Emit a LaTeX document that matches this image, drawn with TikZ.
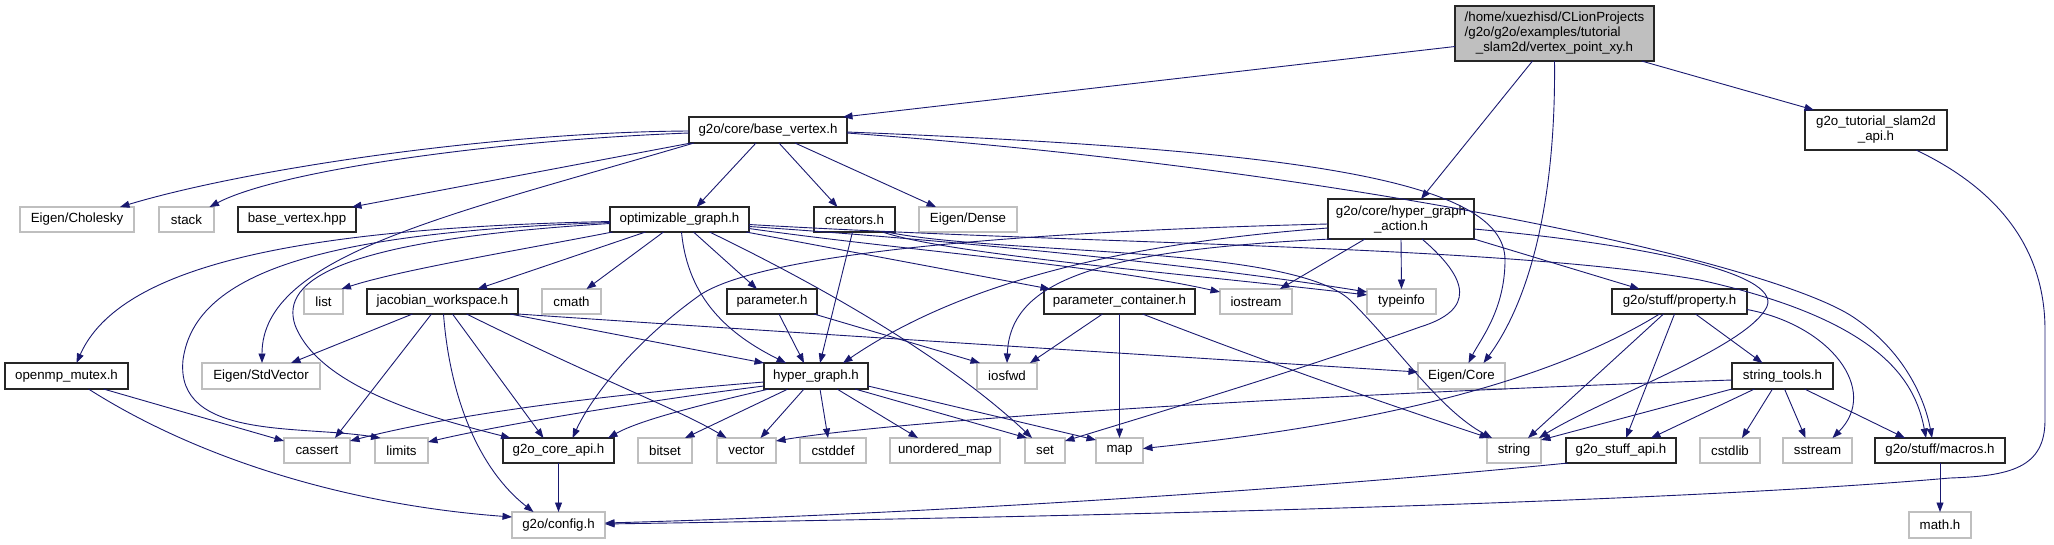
\documentclass[tikz,border=0pt]{standalone}
\usepackage{fontspec}
\setmainfont{Liberation Sans}
\usetikzlibrary{arrows.meta}
\definecolor{eb}{HTML}{191970}
\definecolor{gb}{HTML}{BFBFBF}
\begin{document}
\begin{tikzpicture}[x=1pt,y=-1pt,
  every node/.style={font=\fontsize{13.3}{15}\selectfont, inner sep=0pt, outer sep=0pt},
  doc/.style={draw=black!85, line width=1.2pt, rectangle},
  ext/.style={draw=gb, line width=1.2pt, rectangle},
  e/.style={draw=eb, line width=0.9pt, -{Triangle[length=9.5pt,width=7pt]}}]
\useasboundingbox (0,0) rectangle (2054,544);
% row 0
\node[doc, fill=gb, minimum width=199pt, minimum height=55pt] (vpxy) at (1554.5,33.5)
  {\begin{tabular}{@{}l@{}}/home/xuezhisd/CLionProjects\\/g2o/g2o/examples/tutorial\\\multicolumn{1}{@{}c@{}}{\_slam2d/vertex\_point\_xy.h}\end{tabular}};
% row 1
\node[doc, minimum width=158pt, minimum height=26pt] (bv) at (768,130) {g2o/core/base\_vertex.h};
\node[doc, minimum width=142pt, minimum height=40pt, align=center] (tut) at (1876,130) {g2o\_tutorial\_slam2d\\\_api.h};
% row 2
\node[ext, minimum width=114pt, minimum height=25pt] (chol) at (77,219.5) {Eigen/Cholesky};
\node[ext, minimum width=55pt, minimum height=25pt] (stack) at (186.5,219.5) {stack};
\node[doc, minimum width=118pt, minimum height=25pt] (bvhpp) at (297,219.5) {base\_vertex.hpp};
\node[doc, minimum width=139pt, minimum height=25pt] (opt) at (679.5,219.5) {optimizable\_graph.h};
\node[doc, minimum width=81pt, minimum height=25pt] (creators) at (854.5,219.5) {creators.h};
\node[ext, minimum width=98pt, minimum height=25pt] (dense) at (968,219.5) {Eigen/Dense};
\node[doc, minimum width=146pt, minimum height=40pt, align=center] (hga) at (1401,219) {g2o/core/hyper\_graph\\\_action.h};
% row 3
\node[ext, minimum width=39pt, minimum height=25pt] (list) at (323.5,301.5) {list};
\node[doc, minimum width=151pt, minimum height=25pt] (jac) at (442.5,301.5) {jacobian\_workspace.h};
\node[ext, minimum width=59pt, minimum height=25pt] (cmath) at (571.5,301.5) {cmath};
\node[doc, minimum width=90pt, minimum height=25pt] (param) at (772,301.5) {parameter.h};
\node[doc, minimum width=151pt, minimum height=25pt] (pcont) at (1119.5,301.5) {parameter\_container.h};
\node[ext, minimum width=72pt, minimum height=25pt] (iostream) at (1256,301.5) {iostream};
\node[ext, minimum width=69pt, minimum height=25pt] (typeinfo) at (1401.5,301.5) {typeinfo};
\node[doc, minimum width=135pt, minimum height=25pt] (prop) at (1679.5,301.5) {g2o/stuff/property.h};
% row 4
\node[doc, minimum width=123pt, minimum height=26pt] (openmp) at (66.5,376) {openmp\_mutex.h};
\node[ext, minimum width=118pt, minimum height=26pt] (stdvec) at (261,376) {Eigen/StdVector};
\node[doc, minimum width=104pt, minimum height=26pt] (hg) at (816,376) {hyper\_graph.h};
\node[ext, minimum width=60pt, minimum height=26pt] (iosfwd) at (1007,376) {iosfwd};
\node[ext, minimum width=87pt, minimum height=26pt] (ecore) at (1461.5,376) {Eigen/Core};
\node[doc, minimum width=101pt, minimum height=26pt] (strtools) at (1782.5,376) {string\_tools.h};
% row 5
\node[ext, minimum width=66pt, minimum height=25pt] (cassert) at (317,450.5) {cassert};
\node[ext, minimum width=53pt, minimum height=25pt] (limits) at (401.5,450.5) {limits};
\node[doc, minimum width=111pt, minimum height=25pt] (coreapi) at (558.5,450.5) {g2o\_core\_api.h};
\node[ext, minimum width=54pt, minimum height=25pt] (bitset) at (665,450.5) {bitset};
\node[ext, minimum width=59pt, minimum height=25pt] (vector) at (746.5,450.5) {vector};
\node[ext, minimum width=66pt, minimum height=25pt] (cstddef) at (833,450.5) {cstddef};
\node[ext, minimum width=110pt, minimum height=25pt] (umap) at (945,450.5) {unordered\_map};
\node[ext, minimum width=40pt, minimum height=25pt] (set) at (1045,450.5) {set};
\node[ext, minimum width=47pt, minimum height=25pt] (map) at (1119.5,450.5) {map};
\node[ext, minimum width=54pt, minimum height=25pt] (string) at (1514,450.5) {string};
\node[doc, minimum width=110pt, minimum height=25pt] (stuffapi) at (1621,450.5) {g2o\_stuff\_api.h};
\node[ext, minimum width=60pt, minimum height=25pt] (cstdlib) at (1730,450.5) {cstdlib};
\node[ext, minimum width=69pt, minimum height=25pt] (sstream) at (1817.5,450.5) {sstream};
\node[doc, minimum width=130pt, minimum height=25pt] (macros) at (1940,450.5) {g2o/stuff/macros.h};
% row 6
\node[ext, minimum width=93pt, minimum height=26pt] (config) at (558.5,525) {g2o/config.h};
\node[ext, minimum width=62pt, minimum height=26pt] (math) at (1940,525) {math.h};

% ---- edges ----
% vertex_point_xy
\draw[e] ([yshift=-13pt]vpxy.west) -- ([xshift=-4pt]bv.north east);
\draw[e] ([xshift=-22pt]vpxy.south) -- ([xshift=20pt]hga.north);
\draw[e] (vpxy.south) .. controls (1556,200) and (1530,300) .. ([xshift=22pt]ecore.north);
\draw[e] ([xshift=87pt]vpxy.south) -- ([xshift=-62pt]tut.north);
% tutorial api
\draw[e] ([xshift=40pt]tut.south) .. controls (2000,190) and (2045,250) .. (2045,330) -- (2045,420)
  .. controls (2045,468) and (2010,476) .. (1950,478) .. controls (1700,500) and (1200,515) .. ([yshift=1pt]config.east);
% base_vertex.h
\draw[e] ([yshift=-1pt]bv.west) .. controls (500,132) and (250,168) .. ([xshift=43pt]chol.north);
\draw[e] ([yshift=-3pt]bv.west) .. controls (500,140) and (280,170) .. ([xshift=23pt]stack.north);
\draw[e] ([xshift=2pt]bv.south west) -- ([xshift=55pt]bvhpp.north);
\draw[e] ([xshift=-12pt]bv.south) -- ([xshift=17pt]opt.north);
\draw[e] ([xshift=11pt]bv.south) -- ([xshift=-17pt]creators.north);
\draw[e] ([xshift=27pt]bv.south) -- ([xshift=-32pt]dense.north);
\draw[e] ([xshift=5pt]bv.south west) .. controls (450,215) and (262,255) .. ([xshift=1pt]stdvec.north);
\draw[e] ([yshift=-2pt]bv.east) .. controls (1300,150) and (1505,180) .. (1505,260) .. controls (1505,310) and (1480,340) .. ([xshift=7pt]ecore.north);
\draw[e] ([yshift=-3pt]bv.east) .. controls (1350,170) and (1760,260) .. (1850,315) .. controls (1905,350) and (1925,400) .. ([xshift=-8pt]macros.north);
% optimizable_graph.h
\draw[e] ([yshift=-2pt]opt.west) .. controls (300,228) and (120,265) .. ([xshift=10pt]openmp.north);
\draw[e] ([yshift=-3pt]opt.west) .. controls (330,232) and (195,270) .. (183,360) .. controls (175,440) and (300,425) .. ([xshift=-21pt]limits.north);
\draw[e] ([yshift=-4pt]opt.west) .. controls (340,240) and (280,280) .. (295,325) .. controls (320,390) and (440,420) .. ([xshift=-48pt]coreapi.north);
\draw[e] ([xshift=-67pt]opt.south) .. controls (520,250) and (400,270) .. ([xshift=18pt]list.north);
\draw[e] ([xshift=-34pt]opt.south) -- ([xshift=35pt]jac.north);
\draw[e] ([xshift=-16pt]opt.south) -- ([xshift=15pt]cmath.north);
\draw[e] ([xshift=2pt]opt.south) .. controls (688,300) and (730,335) .. ([xshift=-30pt]hg.north);
\draw[e] ([xshift=14pt]opt.south) -- ([xshift=-15pt]param.north);
\draw[e] ([xshift=30pt]opt.south) .. controls (850,300) and (960,370) .. ([xshift=-13pt]set.north);
\draw[e] ([xshift=-3pt]opt.south east) -- ([xshift=6pt]pcont.north west);
\draw[e] ([yshift=-9pt]opt.east) .. controls (900,250) and (1100,265) .. ([yshift=-3pt]iostream.north west);
\draw[e] ([yshift=-7pt]opt.east) .. controls (950,240) and (1200,265) .. ([yshift=-3pt]typeinfo.north west);
\draw[e] ([yshift=-5pt]opt.east) .. controls (1100,245) and (1500,245) .. (1700,280) .. controls (1880,320) and (1915,380) .. ([xshift=-14pt]macros.north);
% creators.h
\draw[e] ([xshift=28pt]creators.south) .. controls (950,255) and (1200,275) .. ([yshift=-6pt]typeinfo.north west);
\draw[e] ([xshift=-2pt]creators.south) -- ([xshift=4pt]hg.north);
\draw[e] ([xshift=32pt]creators.south) .. controls (1000,255) and (1290,245) .. (1350,300) .. controls (1400,350) and (1440,410) .. ([xshift=5pt]string.north west);
% hyper_graph_action.h
\draw[e] ([yshift=-9pt]hga.west) .. controls (1100,245) and (950,290) .. ([xshift=27pt]hg.north);
\draw[e] ([yshift=-5pt]hga.west) .. controls (1000,232) and (760,255) .. (700,295) .. controls (630,345) and (590,400) .. ([xshift=14pt]coreapi.north);
\draw[e] ([xshift=-70pt]hga.south) .. controls (1100,250) and (1010,280) .. (iosfwd.north);
\draw[e] (hga.south) -- (typeinfo.north);
\draw[e] ([xshift=-36pt]hga.south) -- ([xshift=24pt]iostream.north);
\draw[e] ([xshift=21pt]hga.south) .. controls (1470,280) and (1475,310) .. (1420,327) .. controls (1300,370) and (1150,415) .. ([yshift=-3pt]set.north east);
\draw[e] (hga.south east) -- ([xshift=-40pt]prop.north);
\draw[e] ([yshift=-10pt]hga.east) .. controls (1650,245) and (1790,275) .. (1765,310) .. controls (1740,350) and (1600,400) .. ([xshift=-2pt]string.north east);
% parameter.h, parameter_container.h
\draw[e] ([xshift=7pt]param.south) -- ([xshift=-12pt]hg.north);
\draw[e] ([xshift=-3pt]param.south east) -- ([xshift=3pt]iosfwd.north west);
\draw[e] ([xshift=-17pt]pcont.south) -- ([xshift=23pt]iosfwd.north);
\draw[e] (pcont.south) -- (map.north);
\draw[e] ([xshift=23pt]pcont.south) .. controls (1300,375) and (1420,415) .. ([xshift=2pt]string.north west);
% jacobian_workspace.h
\draw[e] ([xshift=-30pt]jac.south) -- ([xshift=30pt]stdvec.north);
\draw[e] ([xshift=-11pt]jac.south) -- ([xshift=18pt]cassert.north);
\draw[e] ([xshift=1pt]jac.south) .. controls (450,400) and (480,470) .. ([xshift=-25pt]config.north);
\draw[e] ([xshift=10pt]jac.south) -- ([xshift=-15pt]coreapi.north);
\draw[e] ([xshift=24pt]jac.south) .. controls (600,380) and (680,410) .. ([xshift=-20pt]vector.north);
\draw[e] ([xshift=-8pt]jac.south east) -- (hg.north west);
\draw[e] (jac.south east) .. controls (750,330) and (1150,355) .. ([yshift=4pt]ecore.west);
% hyper_graph.h
\draw[e] ([yshift=-6pt]hg.west) .. controls (600,395) and (450,415) .. ([yshift=-3pt]cassert.north east);
\draw[e] ([yshift=-10pt]hg.west) .. controls (650,400) and (500,425) .. ([yshift=-4pt]limits.north east);
\draw[e] ([xshift=5pt]hg.south west) .. controls (700,405) and (640,420) .. ([xshift=-6pt]coreapi.north east);
\draw[e] ([xshift=-28pt]hg.south) -- ([xshift=20pt]bitset.north);
\draw[e] ([xshift=-12pt]hg.south) -- ([xshift=14pt]vector.north);
\draw[e] ([xshift=4pt]hg.south) -- ([xshift=-5pt]cstddef.north);
\draw[e] ([xshift=21pt]hg.south) -- ([xshift=-27pt]umap.north);
\draw[e] ([xshift=39pt]hg.south) -- ([xshift=2pt]set.north west);
\draw[e] ([yshift=-10pt]hg.east) -- ([yshift=-2pt]map.north west);
% openmp_mutex.h, g2o_core_api.h
\draw[e] ([xshift=37pt]openmp.south) -- ([yshift=-3pt]cassert.north west);
\draw[e] ([xshift=22pt]openmp.south) .. controls (200,460) and (350,505) .. ([yshift=8pt]config.west);
\draw[e] (coreapi.south) -- (config.north);
% property.h
\draw[e] ([xshift=-20pt]prop.south) .. controls (1520,400) and (1300,432) .. ([yshift=2pt]map.east);
\draw[e] ([xshift=-16pt]prop.south) -- ([xshift=14pt]string.north);
\draw[e] ([xshift=-5pt]prop.south) -- ([xshift=5pt]stuffapi.north);
\draw[e] ([xshift=16pt]prop.south) -- ([xshift=-20pt]strtools.north);
\draw[e] ([yshift=-8pt]prop.east) .. controls (1830,325) and (1880,390) .. ([xshift=15pt]sstream.north);
% string_tools.h
\draw[e] ([yshift=-4pt]strtools.west) .. controls (1300,395) and (900,420) .. ([yshift=-3pt]vector.north east);
\draw[e] (strtools.south west) -- ([yshift=-2pt]string.north east);
\draw[e] ([xshift=-28pt]strtools.south) -- ([xshift=30pt]stuffapi.north);
\draw[e] ([xshift=-10pt]strtools.south) -- ([xshift=12pt]cstdlib.north);
\draw[e] ([xshift=2pt]strtools.south) -- ([xshift=-12pt]sstream.north);
\draw[e] ([xshift=22pt]strtools.south) -- ([xshift=-35pt]macros.north);
% g2o_stuff_api.h, macros.h
\draw[e] ([xshift=2pt]stuffapi.south west) .. controls (1300,490) and (900,515) .. ([yshift=2pt]config.east);
\draw[e] (macros.south) -- (math.north);
\end{tikzpicture}
\end{document}
